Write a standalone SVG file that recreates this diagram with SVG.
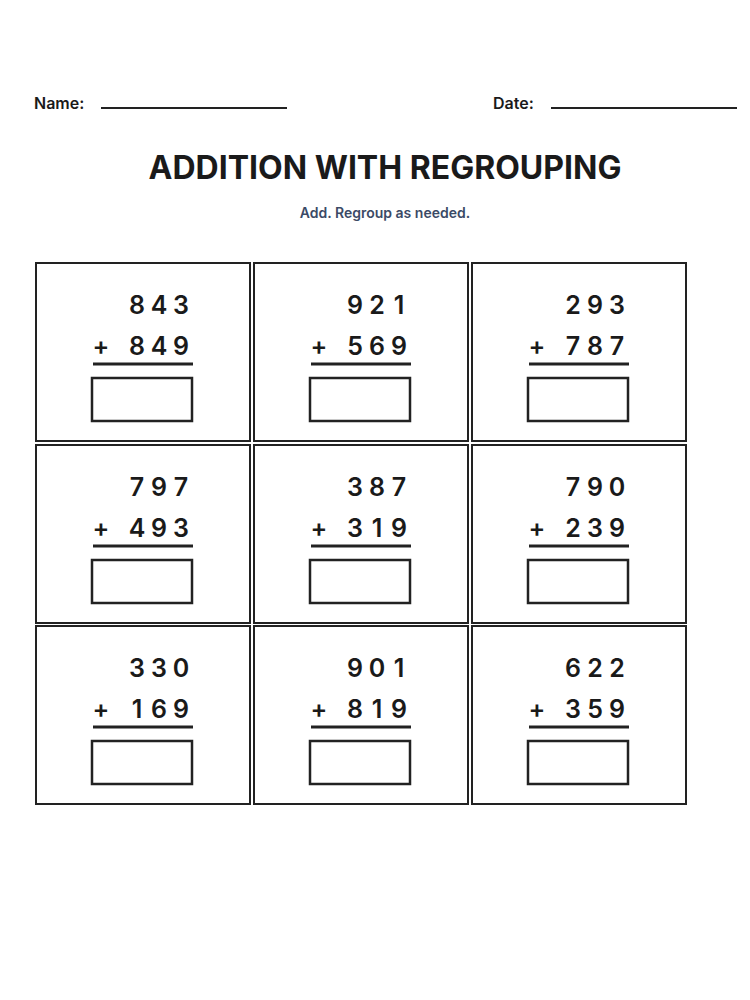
<svg xmlns="http://www.w3.org/2000/svg" width="750" height="1000" viewBox="0 0 750 1000">
<style>
.lbl{font-family:Inter,"Liberation Sans",sans-serif;font-size:16px;font-weight:600;fill:#1a1a1a}
.d{font-family:Inter,"Liberation Sans",sans-serif;font-size:25px;font-weight:600;fill:#1a1a1a;text-anchor:middle}
.cell{fill:#fff;stroke:#222;stroke-width:2}
.ans{fill:#fff;stroke:#222;stroke-width:2.5}
.bar{stroke:#222;stroke-width:3}
</style>
<rect width="750" height="1000" fill="#fff"/>
<g id="header">
<text class="lbl" x="34" y="109">Name:</text>
<line x1="101" y1="108" x2="287" y2="108" stroke="#222" stroke-width="2"/>
<text class="lbl" x="493" y="109">Date:</text>
<line x1="551" y1="108" x2="737" y2="108" stroke="#222" stroke-width="2"/>
<text x="385" y="179" text-anchor="middle" font-family="Inter,'Liberation Sans',sans-serif" font-size="32" font-weight="700" fill="#1a1a1a">ADDITION WITH REGROUPING</text>
<text x="385" y="218" text-anchor="middle" font-family="Inter,'Liberation Sans',sans-serif" font-size="14" font-weight="600" fill="#3b4a66">Add. Regroup as needed.</text>
</g>
<defs>
<g id="frame">
<rect class="cell" x="0" y="0" width="214" height="178"/>
<line class="bar" x1="57" y1="101" x2="157" y2="101"/>
<rect class="ans" x="56" y="115" width="100" height="43"/>
<text class="d" x="65" y="92">+</text>
</g>
</defs>
<g id="p1" transform="translate(36,263)"><use href="#frame"/><text class="d" y="51"><tspan x="101">8</tspan><tspan x="123">4</tspan><tspan x="145">3</tspan></text><text class="d" y="92"><tspan x="101">8</tspan><tspan x="123">4</tspan><tspan x="145">9</tspan></text></g>
<g id="p2" transform="translate(254,263)"><use href="#frame"/><text class="d" y="51"><tspan x="101">9</tspan><tspan x="123">2</tspan><tspan x="145">1</tspan></text><text class="d" y="92"><tspan x="101">5</tspan><tspan x="123">6</tspan><tspan x="145">9</tspan></text></g>
<g id="p3" transform="translate(472,263)"><use href="#frame"/><text class="d" y="51"><tspan x="101">2</tspan><tspan x="123">9</tspan><tspan x="145">3</tspan></text><text class="d" y="92"><tspan x="101">7</tspan><tspan x="123">8</tspan><tspan x="145">7</tspan></text></g>
<g id="p4" transform="translate(36,445)"><use href="#frame"/><text class="d" y="51"><tspan x="101">7</tspan><tspan x="123">9</tspan><tspan x="145">7</tspan></text><text class="d" y="92"><tspan x="101">4</tspan><tspan x="123">9</tspan><tspan x="145">3</tspan></text></g>
<g id="p5" transform="translate(254,445)"><use href="#frame"/><text class="d" y="51"><tspan x="101">3</tspan><tspan x="123">8</tspan><tspan x="145">7</tspan></text><text class="d" y="92"><tspan x="101">3</tspan><tspan x="123">1</tspan><tspan x="145">9</tspan></text></g>
<g id="p6" transform="translate(472,445)"><use href="#frame"/><text class="d" y="51"><tspan x="101">7</tspan><tspan x="123">9</tspan><tspan x="145">0</tspan></text><text class="d" y="92"><tspan x="101">2</tspan><tspan x="123">3</tspan><tspan x="145">9</tspan></text></g>
<g id="p7" transform="translate(36,626)"><use href="#frame"/><text class="d" y="51"><tspan x="101">3</tspan><tspan x="123">3</tspan><tspan x="145">0</tspan></text><text class="d" y="92"><tspan x="101">1</tspan><tspan x="123">6</tspan><tspan x="145">9</tspan></text></g>
<g id="p8" transform="translate(254,626)"><use href="#frame"/><text class="d" y="51"><tspan x="101">9</tspan><tspan x="123">0</tspan><tspan x="145">1</tspan></text><text class="d" y="92"><tspan x="101">8</tspan><tspan x="123">1</tspan><tspan x="145">9</tspan></text></g>
<g id="p9" transform="translate(472,626)"><use href="#frame"/><text class="d" y="51"><tspan x="101">6</tspan><tspan x="123">2</tspan><tspan x="145">2</tspan></text><text class="d" y="92"><tspan x="101">3</tspan><tspan x="123">5</tspan><tspan x="145">9</tspan></text></g>
<g id="connectors"/>
</svg>
